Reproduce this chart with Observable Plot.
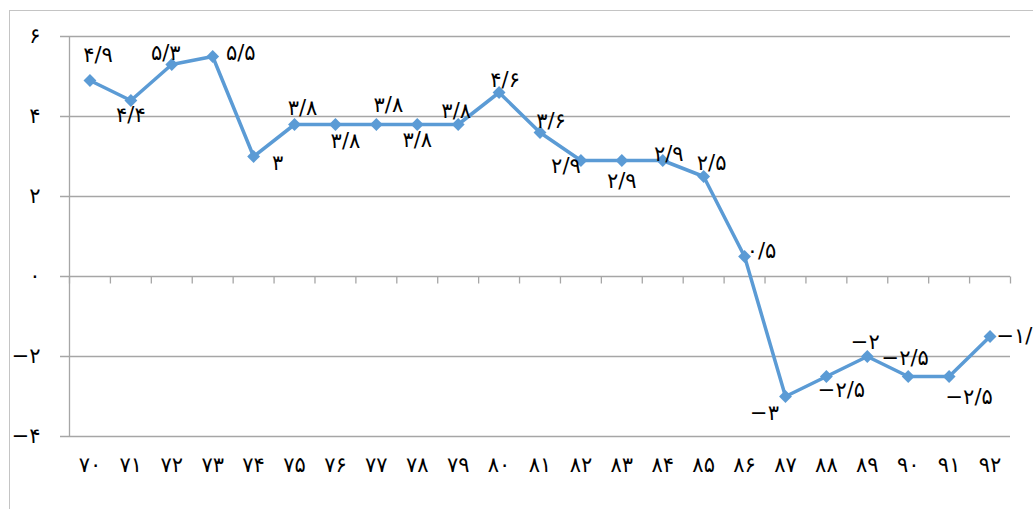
<!DOCTYPE html>
<html><head><meta charset="utf-8">
<script src="https://cdn.jsdelivr.net/npm/d3@7"></script>
<script src="https://cdn.jsdelivr.net/npm/@observablehq/plot@0.6"></script>
<style>
html,body{margin:0;padding:0;background:#fff;}
#wrap{position:relative;width:1033px;height:509px;overflow:hidden;}
#border{position:absolute;left:9px;top:10px;width:1100px;height:600px;border-left:1px solid #c4c4c4;border-top:1px solid #c4c4c4;}
#chart{position:absolute;left:0;top:0;}
</style></head><body>
<div id="wrap"><div id="border"></div><div id="chart"></div></div>
<script>
// Data
const years = ["۷۰","۷۱","۷۲","۷۳","۷۴","۷۵","۷۶","۷۷","۷۸","۷۹","۸۰","۸۱","۸۲","۸۳","۸۴","۸۵","۸۶","۸۷","۸۸","۸۹","۹۰","۹۱","۹۲"];
const values = [4.9,4.4,5.3,5.5,3,3.8,3.8,3.8,3.8,3.8,4.6,3.6,2.9,2.9,2.9,2.5,0.5,-3,-2.5,-2,-2.5,-2.5,-1.5];
const yTicks = [-4,-2,0,2,4,6];

// Label placement offsets (px) relative to each point
const labelOffsets = [[8,-25],[0,15],[-6,-11],[28,-3],[24,7],[8,-16],[10,17],[12,-19],[0,16],[-2,-13],[6,-12],[11,-11],[-15,6],[0,21],[6,-6],[8,-13],[17,-5],[-21,17],[15,14],[-2,-14],[-3,-18],[20,21],[30,0]];

const fa = "۰۱۲۳۴۵۶۷۸۹";
function toFa(v){
  return String(v).replace(/[0-9]/g, d => fa[+d]).replace(".", "/").replace("-", "−");
}

const data = values.map((v,i) => ({i, v, label: toFa(v)}));
const bounds = d3.range(years.length + 1).map(k => k - 0.5);

const grid = "#a6a6a6";
const blue = "#5b9bd5";
const tickSym = {draw(ctx){ ctx.moveTo(0,0); ctx.lineTo(0,7); }};
const FS = 21;

const labelMarks = data.map((d,k) => Plot.text([d], {
  x: "i", y: "v", text: "label",
  dx: labelOffsets[k][0], dy: labelOffsets[k][1],
  fontSize: FS, fill: "#000"
}));

const chart = Plot.plot({
  width: 1033, height: 509,
  marginLeft: 69, marginRight: 23, marginTop: 36, marginBottom: 73,
  style: {fontFamily: "'DejaVu Sans', sans-serif", fontSize: FS + "px", background: "transparent"},
  x: {type: "linear", domain: [-0.5, years.length - 0.5], label: null},
  y: {domain: [-4, 6], label: null},
  marks: [
    Plot.ruleY(yTicks, {stroke: grid, strokeWidth: 1.3, insetLeft: -9}),
    Plot.ruleX([-0.5], {stroke: grid, strokeWidth: 1.3}),
    Plot.dot(bounds, {x: d => d, y: 0, symbol: tickSym, r: 5, stroke: grid, strokeWidth: 1.3, fill: "none"}),
    Plot.axisY({ticks: yTicks, tickFormat: toFa, tickSize: 0, tickPadding: 29, fontSize: FS, fill: "#000", label: null}),
    Plot.axisX({ticks: d3.range(years.length), tickFormat: i => years[i], tickSize: 0, tickPadding: 21, fontSize: FS, fill: "#000", label: null}),
    Plot.line(data, {x: "i", y: "v", stroke: blue, strokeWidth: 3.5}),
    Plot.dot(data, {x: "i", y: "v", symbol: "diamond2", r: 5.8, fill: blue}),
    ...labelMarks
  ]
});
document.getElementById("chart").appendChild(chart);
</script>
</body></html>
